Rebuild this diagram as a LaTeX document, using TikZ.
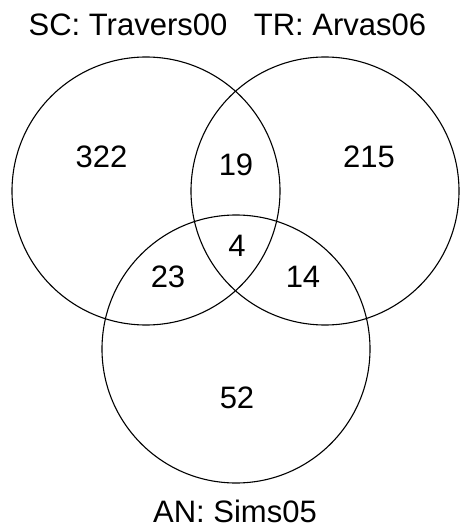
\documentclass[tikz,border=0pt]{standalone}
\usepackage{fontspec}
\setmainfont{Liberation Sans}
\begin{document}
\begin{tikzpicture}[x=1pt,y=-1pt,
  set/.style={draw=black,line width=1.1pt},
  lbl/.style={anchor=base,inner sep=0pt,font=\fontsize{31}{37}\selectfont}]
\useasboundingbox (0,0) rectangle (459,527);
% set centres
\coordinate (cSC) at (146,191);
\coordinate (cTR) at (325,191);
\coordinate (cAN) at (236,349);
% the three sets
\draw[set] (cSC) circle (134);
\draw[set] (cTR) circle (134);
\draw[set] (cAN) circle (134);
% set names
\node[lbl] (nSC) at (128,36) {SC: Travers00};
\node[lbl] (nTR) at (340,36) {TR: Arvas06};
\node[lbl] (nAN) at (235,522) {AN: Sims05};
% region counts
\node[lbl] (r1) at (101.5,167) {322};
\node[lbl] (r2) at (369,167) {215};
\node[lbl] (r3) at (236,175) {19};
\node[lbl] (r4) at (237,256) {4};
\node[lbl] (r5) at (168,287) {23};
\node[lbl] (r6) at (303,287) {14};
\node[lbl] (r7) at (237,408) {52};
\end{tikzpicture}
\end{document}
